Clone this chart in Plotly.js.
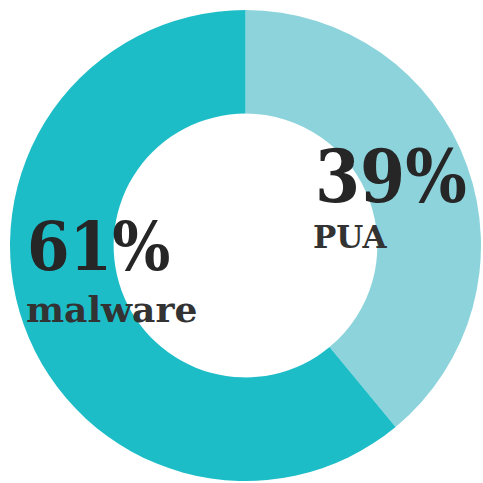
<!DOCTYPE html>
<html>
<head>
<meta charset="utf-8">
<script src="https://cdn.plot.ly/plotly-3.0.1.min.js"></script>
<style>html,body{margin:0;padding:0;background:#fff;}#chart{width:483px;height:483px;}</style>
</head>
<body>
<div id="chart"></div>
<script>
const labels = ["PUA", "malware"];
const values = [39, 61];
const colors = ["#8dd3dc", "#1dbdc8"];

const total = values.reduce((a, b) => a + b, 0);
const pct = values.map(v => Math.round(v / total * 100) + "%");

const trace = {
  type: "pie",
  labels: labels,
  values: values,
  sort: false,
  direction: "clockwise",
  rotation: 0,
  hole: 0.56,
  marker: { colors: colors, line: { width: 0 } },
  textinfo: "none",
  hoverinfo: "none",
  showlegend: false
};

const big = { family: "DejaVu Serif Condensed, DejaVu Serif", size: 72, color: "#262626", weight: "bold" };
const big2 = { family: "DejaVu Serif Condensed, DejaVu Serif", size: 68, color: "#262626", weight: "bold" };
const small = { family: "DejaVu Serif", size: 31, color: "#333333", weight: "bold" };
const small2 = { family: "DejaVu Serif", size: 36, color: "#333333", weight: "bold" };

const layout = {
  width: 483, height: 483,
  margin: { l: 10, r: 2, t: 10, b: 2 },
  paper_bgcolor: "#ffffff",
  showlegend: false,
  annotations: [
    { text: pct[0], x: 313, y: 207, xref: "paper", yref: "paper", showarrow: false, font: big, xanchor: "left", yanchor: "bottom" },
    { text: labels[0], x: 311, y: 243, xref: "paper", yref: "paper", showarrow: false, font: small, xanchor: "left", yanchor: "bottom" },
    { text: pct[1], x: 25, y: 274, xref: "paper", yref: "paper", showarrow: false, font: big2, xanchor: "left", yanchor: "bottom" },
    { text: labels[1], x: 24, y: 318, xref: "paper", yref: "paper", showarrow: false, font: small2, xanchor: "left", yanchor: "bottom" }
  ]
};
// convert pixel positions to paper coordinates
layout.annotations.forEach(a => {
  a.x = (a.x - layout.margin.l) / (483 - layout.margin.l - layout.margin.r);
  a.y = (483 - layout.margin.b - a.y) / (483 - layout.margin.t - layout.margin.b);
  a.yshift = -14;
});

Plotly.newPlot("chart", [trace], layout, { displayModeBar: false, staticPlot: true });
</script>
</body>
</html>
